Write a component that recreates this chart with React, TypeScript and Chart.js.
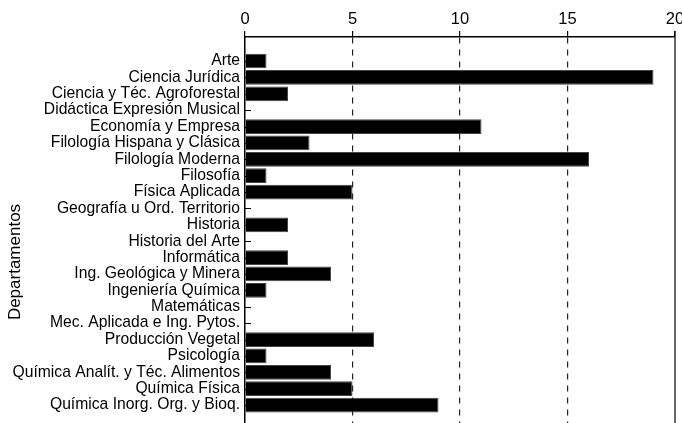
import React, { useEffect, useRef } from "react";
import { Chart, registerables } from "chart.js";

Chart.register(...registerables);

const categories: string[] = [
  "Arte",
  "Ciencia Jurídica",
  "Ciencia y Téc. Agroforestal",
  "Didáctica Expresión Musical",
  "Economía y Empresa",
  "Filología Hispana y Clásica",
  "Filología Moderna",
  "Filosofía",
  "Física Aplicada",
  "Geografía u Ord. Territorio",
  "Historia",
  "Historia del Arte",
  "Informática",
  "Ing. Geológica y Minera",
  "Ingeniería Química",
  "Matemáticas",
  "Mec. Aplicada e Ing. Pytos.",
  "Producción Vegetal",
  "Psicología",
  "Química Analít. y Téc. Alimentos",
  "Química Física",
  "Química Inorg. Org. y Bioq.",
];

const values: number[] = [1, 19, 2, 0, 11, 3, 16, 1, 5, 0, 2, 0, 2, 4, 1, 0, 0, 6, 1, 4, 5, 9];

const xTicks: number[] = [0, 5, 10, 15, 20];
const yTitle = "Departamentos";

const FONT = "'Liberation Sans', Arial, Helvetica, sans-serif";

const extras = {
  id: "extras",
  beforeDatasetsDraw(chart: any) {
    const { ctx, chartArea } = chart;
    const y = chart.scales.y;
    ctx.save();
    ctx.strokeStyle = "#000";
    ctx.lineWidth = 1;
    for (let i = 0; i < categories.length; i++) {
      const py = Math.round(y.getPixelForValue(i)) + 0.5;
      ctx.beginPath();
      ctx.moveTo(chartArea.left, py);
      ctx.lineTo(chartArea.left + 6, py);
      ctx.stroke();
    }
    ctx.restore();
  },
  afterDraw(chart: any) {
    const { ctx, chartArea } = chart;
    ctx.save();
    ctx.strokeStyle = "#000";
    ctx.lineWidth = 1.2;
    ctx.beginPath();
    ctx.moveTo(chartArea.right, chartArea.top - 6);
    ctx.lineTo(chartArea.right, chartArea.bottom);
    ctx.stroke();
    ctx.fillStyle = "#000";
    ctx.font = `17px ${FONT}`;
    ctx.translate(15, 262);
    ctx.rotate(-Math.PI / 2);
    ctx.textAlign = "center";
    ctx.textBaseline = "middle";
    ctx.fillText(yTitle, 0, 0);
    ctx.restore();
  },
};

export default function App() {
  const ref = useRef<HTMLCanvasElement | null>(null);
  useEffect(() => {
    if (!ref.current) return;
    const chart = new Chart(ref.current, {
      type: "bar",
      data: {
        labels: categories,
        datasets: [
          {
            data: values,
            backgroundColor: "#000",
            borderColor: "#444",
            borderWidth: 1,
            barPercentage: 0.9,
            categoryPercentage: 1,
          },
        ],
      },
      options: {
        indexAxis: "y",
        responsive: false,
        animation: false,
        layout: { padding: { left: 0, right: 7, top: 0, bottom: 0 } },
        plugins: { legend: { display: false }, tooltip: { enabled: false } },
        scales: {
          x: {
            position: "top",
            min: 0,
            max: 20,
            afterBuildTicks: (s: any) => {
              s.ticks = xTicks.map((v) => ({ value: v }));
            },
            afterFit: (s: any) => {
              s.height = 37;
              s.paddingLeft = 0;
              s.paddingRight = 0;
            },
            ticks: {
              color: "#000",
              font: { family: FONT, size: 16.5 },
              padding: 2,
            },
            grid: {
              color: (c: any) =>
                c.tick && (c.tick.value === 0 || c.tick.value === 20) ? "rgba(0,0,0,0)" : "#222",
              lineWidth: 1.2,
              tickColor: "#000",
              tickLength: 6,
              drawTicks: true,
            },
            border: { display: true, color: "#000", width: 1.5, dash: [6, 6] },
          },
          y: {
            afterBuildTicks: (s: any) => {
              s._startValue = -1.465;
              s._valueRange = 23.56;
            },
            afterFit: (s: any) => {
              s.width = 245;
              s.paddingTop = 0;
              s.paddingBottom = 0;
            },
            ticks: {
              color: "#000",
              autoSkip: false,
              font: { family: FONT, size: 15.7 },
              padding: 5,
            },
            grid: { display: false, drawTicks: false },
            border: { display: true, color: "#000", width: 1.5 },
          },
        },
      },
      plugins: [extras],
    });
    return () => chart.destroy();
  }, []);
  return (
    <div style={{ position: "fixed", left: 0, top: 0, width: 682, height: 423, background: "#fff" }}>
      <canvas ref={ref} width={682} height={423} />
    </div>
  );
}
